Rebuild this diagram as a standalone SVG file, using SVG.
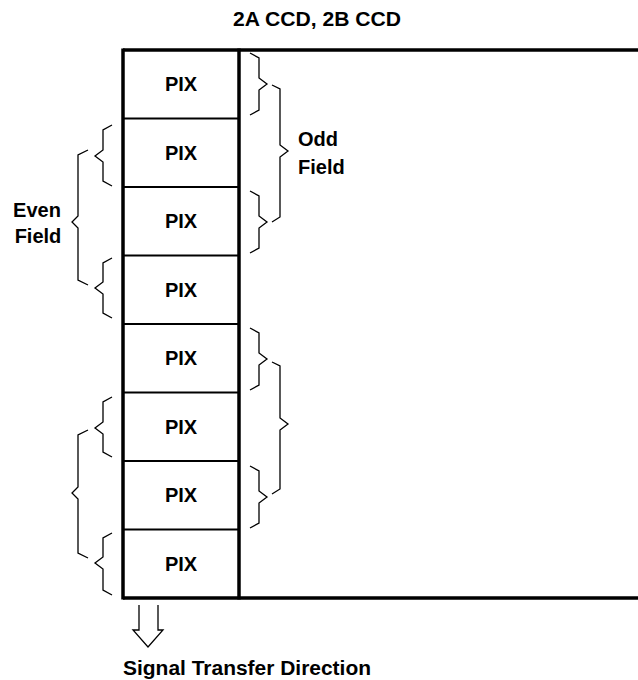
<svg xmlns="http://www.w3.org/2000/svg" width="638" height="680" viewBox="0 0 638 680">
<style>
  text { font-family: "Liberation Sans", Arial, sans-serif; font-weight: bold; fill: #000; }
  .pix { font-size: 20px; text-anchor: middle; }
  .lbl { font-size: 20px; }
  .thick { stroke: #000; stroke-width: 3.5; fill: none; }
  .div { stroke: #000; stroke-width: 2; fill: none; }
  .brace { stroke: #000; stroke-width: 1.3; fill: none; stroke-linejoin: miter; }
</style>
<rect width="638" height="680" fill="#fff"/>
<text id="title" class="lbl" x="317" y="26" text-anchor="middle" textLength="168" lengthAdjust="spacingAndGlyphs">2A CCD, 2B CCD</text>

<g id="ccd-frame">
  <line class="thick" x1="123" y1="50" x2="638" y2="50"/>
  <line class="thick" x1="123" y1="598" x2="638" y2="598"/>
  <line class="thick" x1="123" y1="48.5" x2="123" y2="599.5"/>
  <line class="thick" x1="239" y1="48.5" x2="239" y2="599.5"/>
</g>

<g id="pix1"><text class="pix" x="181" y="91">PIX</text></g>
<g id="pix2"><line class="div" x1="123" y1="118.5" x2="239" y2="118.5"/><text class="pix" x="181" y="160">PIX</text></g>
<g id="pix3"><line class="div" x1="123" y1="187" x2="239" y2="187"/><text class="pix" x="181" y="228">PIX</text></g>
<g id="pix4"><line class="div" x1="123" y1="255.5" x2="239" y2="255.5"/><text class="pix" x="181" y="297">PIX</text></g>
<g id="pix5"><line class="div" x1="123" y1="324" x2="239" y2="324"/><text class="pix" x="181" y="365">PIX</text></g>
<g id="pix6"><line class="div" x1="123" y1="392.5" x2="239" y2="392.5"/><text class="pix" x="181" y="434">PIX</text></g>
<g id="pix7"><line class="div" x1="123" y1="461" x2="239" y2="461"/><text class="pix" x="181" y="502">PIX</text></g>
<g id="pix8"><line class="div" x1="123" y1="529.5" x2="239" y2="529.5"/><text class="pix" x="181" y="571">PIX</text></g>

<g id="braces">
  <!-- right small braces -->
  <path class="brace" d="M250,53 L259,58 L259,78 L267,84 L259,90 L259,110 L250,115"/>
  <path class="brace" d="M250,191 L259,196 L259,216 L267,222 L259,228 L259,248 L250,253"/>
  <path class="brace" d="M250,328 L259,333 L259,353 L267,359 L259,365 L259,385 L250,390"/>
  <path class="brace" d="M250,466 L259,471 L259,491 L267,497 L259,503 L259,523 L250,528"/>
  <!-- right big braces -->
  <path class="brace" d="M272,85 L280,89 L280,145 L288,151 L280,157 L280,217 L272,222"/>
  <path class="brace" d="M272,362 L280,366 L280,418 L288,424 L280,430 L280,489 L272,494"/>
  <!-- left small braces -->
  <path class="brace" d="M112,125 L103,130 L103,150 L95,156 L103,162 L103,181 L112,186"/>
  <path class="brace" d="M112,258 L103,263 L103,282 L95,288 L103,294 L103,313 L112,318"/>
  <path class="brace" d="M112,397 L103,402 L103,422 L95,428 L103,434 L103,452 L112,457"/>
  <path class="brace" d="M112,533 L103,538 L103,557 L95,563 L103,569 L103,590 L112,595"/>
  <!-- left big braces -->
  <path class="brace" d="M88,150 L78,155 L78,216 L72,222 L78,228 L78,280 L88,285"/>
  <path class="brace" d="M88,430 L78,435 L78,487 L72,493 L78,499 L78,553 L88,558"/>
</g>

<g id="even-label">
  <text class="lbl" x="37" y="217" text-anchor="middle">Even</text>
  <text class="lbl" x="38" y="243" text-anchor="middle">Field</text>
</g>
<g id="odd-label">
  <text class="lbl" x="298" y="146">Odd</text>
  <text class="lbl" x="298" y="174">Field</text>
</g>

<g id="connectors">
  <path id="transfer-arrow" d="M139,605 L139,630 L133,630 L148,647 L163,630 L158,630 L158,605" fill="none" stroke="#000" stroke-width="1.3"/>
</g>
<text id="direction-label" class="lbl" x="123" y="675" textLength="248" lengthAdjust="spacingAndGlyphs">Signal Transfer Direction</text>
</svg>
